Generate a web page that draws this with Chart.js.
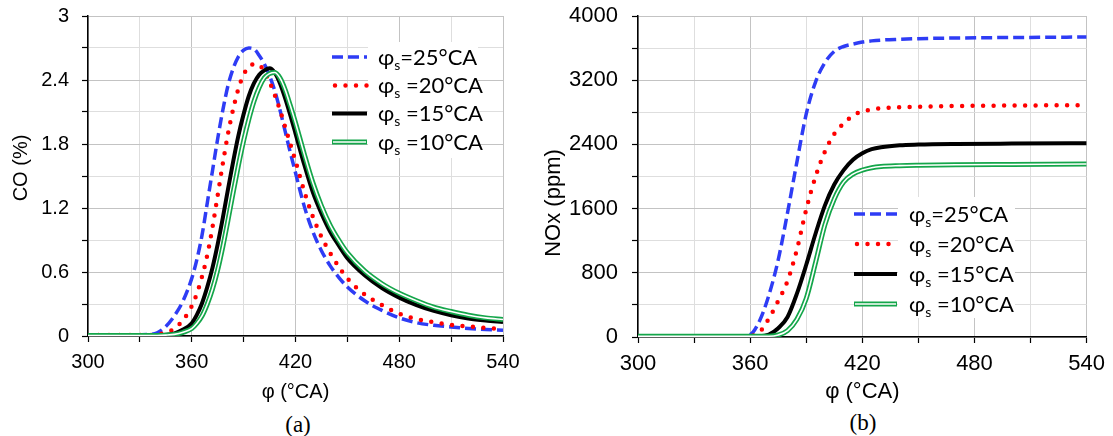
<!DOCTYPE html>
<html>
<head>
<meta charset="utf-8">
<script src="https://cdn.jsdelivr.net/npm/chart.js@4.4.1/dist/chart.umd.min.js"></script>
<style>
  body { margin: 0; background: #fff; width: 1113px; height: 436px; overflow: hidden; position: relative; }
  canvas { position: absolute; top: 0; }
  #coChart { left: 0; }
  #noxChart { left: 540px; }
  .tag { position: absolute; width: 60px; text-align: center; font-family: 'Liberation Serif', 'Times New Roman', serif; font-size: 23px; line-height: 26px; color: #000; }
</style>
</head>
<body>
<canvas id="coChart" width="530" height="410"></canvas>
<canvas id="noxChart" width="573" height="410"></canvas>
<div class="tag" style="left:268px; top:412px;">(a)</div>
<div class="tag" style="left:833px; top:410px;">(b)</div>
<script>
// crank angle grid (°CA) and CO (%) for each start-of-injection advance
const phiCO = [300, 320, 335, 340, 345, 350, 355, 360, 363, 366, 369, 372, 375, 378, 381, 384, 387, 390, 393, 396,
               399, 402, 405, 408, 411, 414, 417, 420, 425, 430, 435, 440, 445, 450, 460, 470, 480, 490, 500, 510,
               520, 530, 540];
const co25 = [0.01, 0.01, 0.015, 0.03, 0.09, 0.19, 0.33, 0.54, 0.72, 0.95, 1.25, 1.55, 1.85, 2.12, 2.35, 2.51, 2.62, 2.68, 2.70, 2.69,
              2.63, 2.55, 2.44, 2.30, 2.12, 1.92, 1.72, 1.53, 1.22, 0.98, 0.80, 0.66, 0.55, 0.46, 0.33, 0.24, 0.17, 0.125, 0.10, 0.085,
              0.07, 0.06, 0.055];
const co20 = [0.01, 0.01, 0.01, 0.015, 0.03, 0.07, 0.15, 0.28, 0.40, 0.56, 0.76, 1.02, 1.32, 1.62, 1.90, 2.13, 2.32, 2.45, 2.52, 2.55,
              2.54, 2.48, 2.38, 2.26, 2.12, 1.96, 1.80, 1.64, 1.36, 1.12, 0.93, 0.78, 0.65, 0.54, 0.39, 0.29, 0.21, 0.16, 0.13, 0.105,
              0.09, 0.075, 0.065];
const co15 = [0.005, 0.005, 0.005, 0.008, 0.012, 0.025, 0.06, 0.12, 0.20, 0.31, 0.46, 0.64, 0.86, 1.11, 1.38, 1.64, 1.88, 2.08, 2.25, 2.37,
              2.45, 2.49, 2.51, 2.47, 2.37, 2.23, 2.07, 1.90, 1.61, 1.35, 1.15, 0.98, 0.85, 0.73, 0.57, 0.45, 0.36, 0.29, 0.235, 0.195,
              0.165, 0.145, 0.13];
const co10 = [0.005, 0.005, 0.005, 0.005, 0.008, 0.015, 0.035, 0.07, 0.12, 0.19, 0.30, 0.44, 0.62, 0.84, 1.09, 1.35, 1.60, 1.83, 2.03, 2.20,
              2.33, 2.42, 2.46, 2.47, 2.42, 2.31, 2.16, 2.00, 1.71, 1.44, 1.22, 1.04, 0.90, 0.78, 0.61, 0.49, 0.40, 0.33, 0.27, 0.23,
              0.195, 0.17, 0.155];

// NOx (ppm)
const phiNOx = [300, 340, 355, 360, 365, 370, 375, 380, 385, 390, 395, 400, 405, 410, 415, 420, 425, 430, 440, 450, 470, 500, 540];
const nox25 = [10, 10, 12, 30, 200, 520, 960, 1550, 2180, 2780, 3180, 3420, 3560, 3620, 3650, 3675, 3690, 3700, 3710, 3718, 3726, 3732, 3738];
const nox20 = [10, 10, 10, 12, 60, 230, 450, 700, 1090, 1590, 2000, 2310, 2530, 2660, 2760, 2810, 2835, 2850, 2862, 2870, 2878, 2884, 2890];
const nox15 = [10, 10, 10, 10, 10, 30, 110, 250, 540, 900, 1290, 1640, 1900, 2080, 2210, 2290, 2340, 2365, 2390, 2398, 2405, 2410, 2415];
const nox10 = [10, 10, 10, 10, 10, 10, 25, 80, 220, 480, 930, 1400, 1720, 1930, 2030, 2080, 2110, 2125, 2135, 2140, 2146, 2150, 2155];

// legend text after "φ" + subscript "s"
const seriesTail = ['=25°CA', ' =20°CA', ' =15°CA', ' =10°CA'];

const BLUE = '#2e3cf5', RED = '#ff0000', BLACK = '#000000', GREEN = '#14a64a';
const GRID_MAJOR = '#c3c3c3', GRID_MINOR = '#dedede';
const SANS = "'Liberation Sans', Arial, sans-serif";
const LEGEND_FONT = "Lato, 'Open Sans', sans-serif";

const lineStyles = [
  { color: BLUE, width: 3.5, dash: [11, 5], cap: 'butt' },
  { color: RED, width: 4.5, dash: [0, 10.5], cap: 'round' },
  { color: BLACK, width: 4, dash: [], cap: 'butt' },
  { color: GREEN, width: 5, dash: [], cap: 'butt', inner: '#ffffff', innerWidth: 1.6 }
];

const toPoints = (xs, ys) => xs.map((x, i) => ({ x, y: ys[i] }));

function buildDatasets(xs, series) {
  const sets = [];
  series.forEach((ys, i) => {
    const s = lineStyles[i];
    sets.push({
      data: toPoints(xs, ys), borderColor: s.color, borderWidth: s.width, borderDash: s.dash,
      borderCapStyle: s.cap, pointRadius: 0, cubicInterpolationMode: 'monotone', order: 10 - i * 2
    });
    // double line: white core laid over the wide green stroke
    if (s.inner) {
      sets.push({
        data: toPoints(xs, ys), borderColor: s.inner, borderWidth: s.innerWidth,
        pointRadius: 0, cubicInterpolationMode: 'monotone', order: 0
      });
    }
  });
  return sets;
}

// legend with subscript text, drawn over a white box
const phiLegend = {
  id: 'phiLegend',
  afterDraw(chart, args, o) {
    const ctx = chart.ctx;
    ctx.save();
    ctx.fillStyle = '#fff';
    ctx.fillRect(o.box[0], o.box[1], o.box[2], o.box[3]);
    o.rows.forEach((y, i) => {
      const s = lineStyles[i];
      ctx.beginPath();
      ctx.setLineDash(s.dash);
      ctx.lineCap = s.cap;
      ctx.strokeStyle = s.color;
      ctx.lineWidth = s.width;
      ctx.moveTo(o.lineX[0] + (s.cap === 'round' ? 3 : 0), y);
      ctx.lineTo(o.lineX[1], y);
      ctx.stroke();
      if (s.inner) {
        ctx.beginPath();
        ctx.strokeStyle = s.inner;
        ctx.lineWidth = s.innerWidth;
        ctx.moveTo(o.lineX[0] + 1, y);
        ctx.lineTo(o.lineX[1] - 1, y);
        ctx.stroke();
      }
      ctx.setLineDash([]);
      ctx.fillStyle = '#000';
      ctx.textBaseline = 'alphabetic';
      ctx.textAlign = 'left';
      const base = y + o.size * 0.36;
      let x = o.textX;
      ctx.font = o.size + 'px ' + LEGEND_FONT;
      ctx.fillText('φ', x, base);
      x += ctx.measureText('φ').width;
      ctx.font = Math.round(o.size * 0.65) + 'px ' + LEGEND_FONT;
      ctx.fillText('s', x, base + o.size * 0.22);
      x += ctx.measureText('s').width;
      ctx.font = o.size + 'px ' + LEGEND_FONT;
      ctx.fillText(seriesTail[i], x, base);
    });
    ctx.restore();
  }
};

// rotated y-axis caption at a fixed centre
const yCaption = {
  id: 'yCaption',
  afterDraw(chart, args, o) {
    const ctx = chart.ctx;
    ctx.save();
    ctx.translate(o.x, o.y);
    ctx.rotate(-Math.PI / 2);
    ctx.font = o.size + 'px ' + SANS;
    ctx.fillStyle = '#000';
    ctx.textAlign = 'center';
    ctx.textBaseline = 'middle';
    ctx.fillText(o.text, 0, 0);
    ctx.restore();
  }
};

function makeChart(id, cfg) {
  const fontTick = { family: SANS, size: cfg.fontSize };
  return new Chart(document.getElementById(id), {
    type: 'line',
    data: { datasets: buildDatasets(cfg.xs, cfg.series) },
    plugins: [phiLegend, yCaption],
    options: {
      responsive: false, animation: false, devicePixelRatio: 1,
      layout: { padding: { top: 16, right: cfg.padRight, left: 0, bottom: 0 } },
      plugins: { legend: { display: false }, tooltip: { enabled: false }, phiLegend: cfg.legend, yCaption: cfg.yTitle },
      scales: {
        x: {
          type: 'linear', min: 300, max: 540,
          afterFit: s => { s.height = cfg.xHeight; },
          border: { color: '#000', width: 1.5 },
          grid: { color: c => c.index % 2 === 0 ? GRID_MAJOR : GRID_MINOR, lineWidth: 1, tickLength: 6, tickColor: '#000', tickWidth: 1.2 },
          ticks: { stepSize: 30, autoSkip: false, maxRotation: 0, padding: 8, color: '#000', font: fontTick,
                   callback: v => v % 60 === 0 ? String(v) : '' },
          title: { display: true, text: 'φ (°CA)', color: '#000', font: fontTick, padding: { top: 0, bottom: cfg.xTitlePad } }
        },
        y: {
          type: 'linear', min: 0, max: cfg.yMax,
          // fixed axis width, and no extra room reserved above the top label
          afterFit: s => { s.width = cfg.yWidth; s.paddingTop = 0; s.paddingBottom = 0; },
          border: { color: '#000', width: 1.5 },
          grid: { color: c => c.index % 2 === 0 ? GRID_MAJOR : GRID_MINOR, lineWidth: 1, tickLength: 6, tickColor: '#000', tickWidth: 1.2 },
          ticks: { stepSize: cfg.yStep, autoSkip: false, padding: cfg.yTickPad, color: '#000', font: fontTick, callback: cfg.yLabel }
        }
      }
    }
  });
}

makeChart('coChart', {
  xs: phiCO, series: [co25, co20, co15, co10],
  fontSize: 20, padRight: 27, xHeight: 74, yWidth: 88, xTitlePad: 6, yTickPad: 13,
  yMax: 3, yStep: 0.3,
  yTitle: { text: 'CO (%)', x: 21, y: 168, size: 20 },
  yLabel: (v, i) => i % 2 === 0 ? String(+v.toFixed(1)) : '',
  legend: { box: [368, 42, 110, 116], lineX: [332, 367], textX: 378, rows: [57, 85.5, 113.5, 142], size: 22 }
});

makeChart('noxChart', {
  xs: phiNOx, series: [nox25, nox20, nox15, nox10],
  fontSize: 22, padRight: 24, xHeight: 73, yWidth: 98, xTitlePad: 5, yTickPad: 14,
  yMax: 4000, yStep: 400,
  yTitle: { text: 'NOx (ppm)', x: 14, y: 203, size: 22 },
  yLabel: (v, i) => i % 2 === 0 ? String(v) : '',
  legend: { box: [358, 197, 117, 121], lineX: [314, 357], textX: 369, rows: [214, 244, 274, 304], size: 22 }
});
</script>
</body>
</html>
